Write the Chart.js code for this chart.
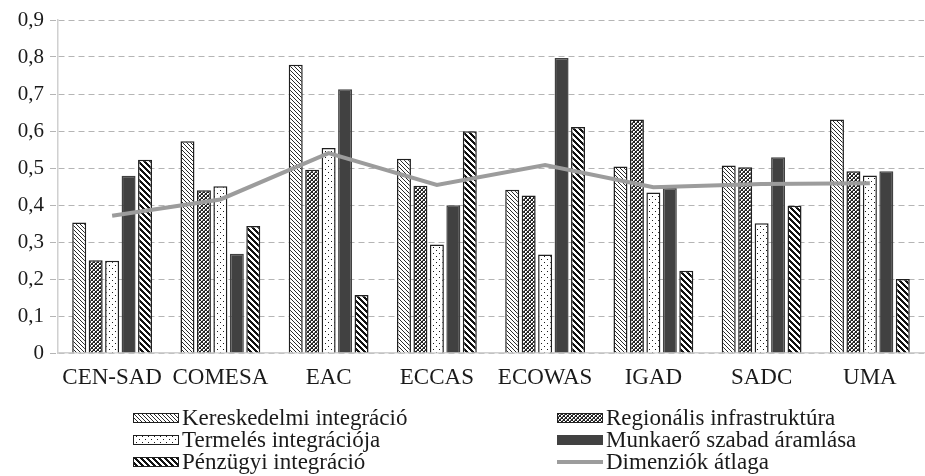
<!DOCTYPE html>
<html>
<head>
<meta charset="utf-8">
<script src="https://cdn.jsdelivr.net/npm/chart.js@4.4.1/dist/chart.umd.min.js"></script>
<style>
  html, body { margin: 0; padding: 0; background: #ffffff; }
  #wrap { position: relative; width: 925px; height: 476px; }
  #probe { position: absolute; left: 0; top: 0; font-family: "Liberation Serif"; font-size: 22px; color: transparent; }
</style>
</head>
<body>
<span id="probe">Kereskedelmi 0,9 CEN-SAD áő</span>
<div id="wrap"><canvas id="c" width="925" height="476"></canvas></div>
<script>
// ---- data ----
const categories = ['CEN-SAD', 'COMESA', 'EAC', 'ECCAS', 'ECOWAS', 'IGAD', 'SADC', 'UMA'];
const kereskedelmi = [0.353, 0.572, 0.779, 0.525, 0.441, 0.504, 0.507, 0.631];
const regionalis   = [0.251, 0.440, 0.495, 0.452, 0.426, 0.631, 0.502, 0.491];
const termeles     = [0.249, 0.451, 0.554, 0.293, 0.266, 0.434, 0.351, 0.480];
const munkaero     = [0.479, 0.268, 0.713, 0.399, 0.797, 0.446, 0.529, 0.491];
const penzugyi     = [0.522, 0.343, 0.157, 0.599, 0.611, 0.222, 0.398, 0.200];
const atlag        = [0.371, 0.415, 0.540, 0.454, 0.508, 0.448, 0.457, 0.459];
const seriesLabels = ['Kereskedelmi integráció', 'Regionális infrastruktúra', 'Termelés integrációja',
                      'Munkaerő szabad áramlása', 'Pénzügyi integráció', 'Dimenziók átlaga'];
const yTickLabels  = ['0', '0,1', '0,2', '0,3', '0,4', '0,5', '0,6', '0,7', '0,8', '0,9'];

// ---- patterns ----
const mainCtx = document.getElementById('c').getContext('2d');
function makePattern(size, drawFn) {
  const c = document.createElement('canvas');
  c.width = size; c.height = size;
  const g = c.getContext('2d');
  g.fillStyle = '#ffffff';
  g.fillRect(0, 0, size, size);
  drawFn(g, size);
  return mainCtx.createPattern(c, 'repeat');
}
const patKeresk = makePattern(4, (g, s) => {
  g.fillStyle = '#2a2a2a';
  for (let i = 0; i < s; i++) g.fillRect(i, i, 1, 1);
});
const patRegion = makePattern(4, (g, s) => {
  g.fillStyle = '#222222';
  for (let i = 0; i < s; i++) { g.fillRect(i, i, 1, 1); g.fillRect(s - 1 - i, i, 1, 1); }
  g.fillStyle = '#777777';
  g.fillRect(0, 2, 1, 1); g.fillRect(2, 0, 1, 1);
});
const patTermeles = makePattern(6, (g, s) => {
  g.fillStyle = '#1a1a1a';
  g.fillRect(1, 1, 1, 1);
  g.fillRect(4, 4, 1, 1);
});
const patPenz = makePattern(6, (g, s) => {
  g.fillStyle = '#111111';
  for (let i = 0; i < s; i++) for (let k = 0; k < 3; k++) g.fillRect((i + k) % s, i, 1, 1);
});

const FONT = '"Liberation Serif"';
const TEXT = '#1a1a1a';
const BAR_BORDER = '#1f1f1f';

// ---- custom two-column legend ----
const legendPlugin = {
  id: 'twoColLegend',
  afterDraw(chart) {
    const ctx = chart.ctx;
    const cols = [133, 557];
    const rows = [418, 440, 462];
    chart.data.datasets.forEach((ds, i) => {
      const x = cols[i % 2];
      const yc = rows[Math.floor(i / 2)];
      ctx.save();
      if (ds.type === 'line') {
        ctx.strokeStyle = ds.borderColor;
        ctx.lineWidth = 4;
        ctx.beginPath();
        ctx.moveTo(x, yc);
        ctx.lineTo(x + 46, yc);
        ctx.stroke();
      } else {
        ctx.fillStyle = ds.backgroundColor;
        ctx.fillRect(x, yc - 5, 46, 10);
        ctx.strokeStyle = ds.borderColor;
        ctx.lineWidth = 1;
        ctx.strokeRect(x + 0.5, yc - 4.5, 45, 9);
      }
      ctx.fillStyle = TEXT;
      ctx.font = '23px ' + FONT;
      ctx.textBaseline = 'middle';
      ctx.textAlign = 'left';
      ctx.fillText(ds.label, x + 49, yc + 1);
      ctx.restore();
    });
  }
};

const barCommon = { borderWidth: 1.5, borderColor: BAR_BORDER, categoryPercentage: 0.76, barPercentage: 0.85, order: 2 };

function build() {
  new Chart(document.getElementById('c'), {
    type: 'bar',
    data: {
      labels: categories,
      datasets: [
        Object.assign({ label: seriesLabels[0], data: kereskedelmi, backgroundColor: patKeresk }, barCommon),
        Object.assign({ label: seriesLabels[1], data: regionalis, backgroundColor: patRegion }, barCommon),
        Object.assign({ label: seriesLabels[2], data: termeles, backgroundColor: patTermeles }, barCommon),
        Object.assign({}, barCommon, { label: seriesLabels[3], data: munkaero, backgroundColor: '#414141', borderColor: '#414141' }),
        Object.assign({ label: seriesLabels[4], data: penzugyi, backgroundColor: patPenz }, barCommon),
        { type: 'line', label: seriesLabels[5], data: atlag, borderColor: '#9c9c9c', backgroundColor: '#9c9c9c',
          borderWidth: 4, pointRadius: 0, tension: 0, fill: false, order: 1 }
      ]
    },
    options: {
      responsive: false,
      animation: false,
      devicePixelRatio: 1,
      font: { family: FONT },
      layout: { padding: { top: 20, right: 1, bottom: 78, left: 0 } },
      plugins: { legend: { display: false }, tooltip: { enabled: false } },
      scales: {
        x: {
          grid: { display: false, drawTicks: false },
          border: { display: true, color: '#d0d0d0', width: 1.5 },
          ticks: { color: TEXT, font: { family: FONT, size: 23 }, padding: 11, maxRotation: 0, autoSkip: false },
          afterFit(scale) { scale.height = 45; }
        },
        y: {
          min: 0, max: 0.9,
          ticks: {
            stepSize: 0.1,
            color: TEXT,
            font: { family: FONT, size: 21 },
            padding: 6,
            callback: (v, i) => yTickLabels[i]
          },
          grid: { color: '#b5b5b5', lineWidth: 1, tickLength: 8, tickColor: '#b5b5b5',
                  tickBorderDash: [6, 4] },
          border: { display: true, color: '#d0d0d0', width: 1.5, dash: [6, 4] },
          afterFit(scale) { scale.width = 58; }
        }
      }
    },
    plugins: [legendPlugin]
  });
}

Chart.defaults.font.family = FONT;
void document.getElementById('probe').offsetWidth;
build();
</script>
</body>
</html>
